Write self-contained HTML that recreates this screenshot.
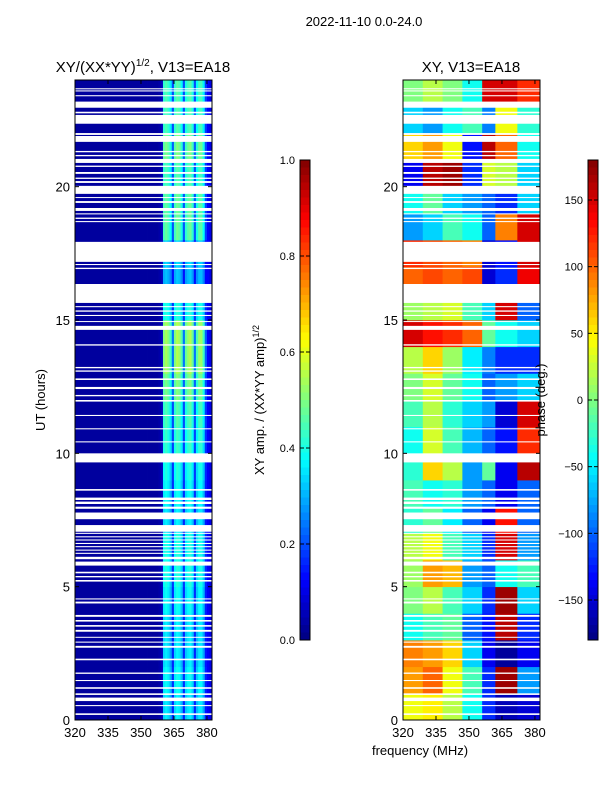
<!DOCTYPE html>
<html><head><meta charset="utf-8"><style>
html,body{margin:0;padding:0;background:#fff;}
svg text{font-family:"Liberation Sans","DejaVu Sans",sans-serif;}
</style></head><body>
<svg id="fig" width="600" height="800" viewBox="0 0 600 800" xmlns="http://www.w3.org/2000/svg">
<rect width="600" height="800" fill="#fff"/>
<text x="364" y="26" font-size="13" text-anchor="middle">2022-11-10 0.0-24.0</text>
<text x="143" y="72" font-size="15" text-anchor="middle">XY/(XX*YY)<tspan font-size="10" dy="-6">1/2</tspan><tspan dy="6">, V13=EA18</tspan></text>
<text x="471" y="72" font-size="15" text-anchor="middle">XY, V13=EA18</text>
<g id="amp"></g>
<g id="pha"></g>
<g id="axes"></g>
<text x="420" y="755" font-size="13" text-anchor="middle">frequency (MHz)</text>
<text transform="translate(45,400) rotate(-90)" font-size="13" text-anchor="middle">UT (hours)</text>
<text transform="translate(264,400) rotate(-90)" font-size="13" text-anchor="middle">XY amp. / (XX*YY amp)<tspan font-size="9" dy="-5">1/2</tspan></text>
<text transform="translate(545,400) rotate(-90)" font-size="13" text-anchor="middle">phase (deg.)</text>
</svg>
<script>
// ---- data ----
const freqMin = 320, freqMax = 382.3, tMin = 0, tMax = 24;
const xTicks = [320, 335, 350, 365, 380];
const yTicks = [0, 5, 10, 15, 20];
const ampTicks = [0.0, 0.2, 0.4, 0.6, 0.8, 1.0];
const phaseTicks = [-150, -100, -50, 0, 50, 100, 150];
// amplitude per 1 MHz channel 320..381
const ampChannel = [0.03,0.03,0.03,0.03,0.03,0.03,0.03,0.03,0.03,0.03,
 0.03,0.03,0.03,0.03,0.03,0.03,0.03,0.03,0.03,0.03,
 0.03,0.03,0.03,0.03,0.03,0.03,0.03,0.03,0.03,0.03,
 0.03,0.03,0.03,0.03,0.03,0.03,0.03,0.03,0.04,0.06,
 0.42,0.45,0.42,0.36,0.2,0.42,0.46,0.44,0.38,0.2,
 0.4,0.44,0.46,0.4,0.2,0.38,0.44,0.44,0.36,0.18,0.12,0.1];
// brightness factor per hour 0..23
const ampHour = [0.8,0.85,0.8,0.8,0.85,0.9,0.9,0.8,0.85,0.9,0.95,1.0,1.1,1.2,1.2,0.9,0.7,0.75,1.05,1.05,1.0,1.1,1.0,1.0];
// phase grid: rows hour 0..23, cols freq bins
const phaseFreqEdges = [320,329,338,347,356,362,372,382.3];
const phaseGrid = [
 [40,50,20,-40,-120,-160,-150],
 [80,100,40,-20,-120,170,-80],
 [90,80,60,-60,-140,-170,-140],
 [-40,-20,-10,-100,-130,160,-120],
 [0,20,-20,-60,-120,170,-60],
 [10,80,70,-80,-100,-40,-20],
 [20,40,-20,-60,-120,150,-80],
 [-30,-10,-50,-100,-140,130,-100],
 [-20,-40,-30,-80,-100,-140,-100],
 [-30,60,20,-80,-10,-140,160],
 [-40,30,-20,-70,-100,-130,120],
 [-20,20,-30,-60,-80,-150,150],
 [0,30,-10,-40,-100,-80,-60],
 [20,60,10,-50,-90,-120,-120],
 [150,130,120,100,-10,-40,-60],
 [10,20,30,-20,-60,150,-100],
 [100,110,100,110,-150,-120,140],
 [120,110,100,90,-150,-130,150],
 [-80,-60,-20,-40,-100,90,150],
 [-40,-10,-60,-80,-100,-120,-60],
 [-140,160,170,-120,30,20,-60],
 [60,80,40,-130,160,100,-40],
 [-60,-80,-40,-20,-90,40,-30],
 [0,20,0,-40,150,150,120]];
// flagged (blank) time intervals, hours
const flagStart = [23.65,23.57,23.39,22.96,22.75,22.36,21.94,21.68,21.29,21.14,20.89,20.74,20.48,20.29,20.14,19.73,19.58,19.39,19.09,18.96,18.79,18.67,17.18,17.06,16.91,15.64,15.48,15.31,15.15,14.93,14.63,14.04,13.19,13.06,12.75,12.41,12.14,11.94,11.40,10.90,10.41,9.66,8.60,8.25,8.10,7.92,7.53,7.06,6.98,6.85,6.73,6.60,6.48,6.35,6.23,6.03,5.79,5.50,5.35,5.19,4.52,4.37,3.87,3.69,3.50,3.31,3.09,2.90,2.71,2.24,1.73,1.46,1.17,0.94,0.71,0.52,0.19];
const flagEnd   = [23.69,23.61,23.43,23.19,22.81,22.69,22.01,21.90,21.34,21.19,21.04,20.79,20.55,20.34,20.21,20.03,19.61,19.46,19.20,19.00,18.84,18.71,17.93,17.10,16.96,16.35,15.52,15.36,15.19,14.96,14.78,14.09,13.24,13.11,12.81,12.49,12.19,12.00,11.44,10.94,10.45,10.00,8.66,8.34,8.19,8.00,7.78,7.31,7.02,6.89,6.77,6.64,6.52,6.39,6.27,6.12,5.94,5.56,5.40,5.25,4.56,4.44,3.94,3.75,3.56,3.38,3.12,2.94,2.78,2.30,1.78,1.50,1.23,1.00,0.84,0.56,0.25];

// ---- geometry ----
const NS = 'http://www.w3.org/2000/svg';
const L = {x0:75, x1:212}, R = {x0:403, x1:540};
const yTop = 80, yBot = 720;
function xs(p, f){ return p.x0 + (f - freqMin) / (freqMax - freqMin) * (p.x1 - p.x0); }
function ys(t){ return yBot - (t - tMin) / (tMax - tMin) * (yBot - yTop); }
const cb1 = {x:300, w:10, top:160, bot:640, min:0, max:1};
const cb2 = {x:588, w:10, top:160, bot:640, min:-180, max:180};
function cby(cb, v){ return cb.bot - (v - cb.min) / (cb.max - cb.min) * (cb.bot - cb.top); }
function jet(v){
  v = Math.max(0, Math.min(1, v));
  const c = x => Math.round(255 * Math.max(0, Math.min(1, x)));
  const r = 1.5 - Math.abs(4*v - 3), g = 1.5 - Math.abs(4*v - 2), b = 1.5 - Math.abs(4*v - 1);
  return 'rgb(' + c(r) + ',' + c(g) + ',' + c(b) + ')';
}
function mk(tag, attrs, parent){
  const e = document.createElementNS(NS, tag);
  for (const k in attrs) e.setAttribute(k, attrs[k]);
  parent.appendChild(e); return e;
}
const amp = document.getElementById('amp'), pha = document.getElementById('pha'), axes = document.getElementById('axes');

// amplitude heatmap
for (let h = 0; h < ampHour.length; h++){
  for (let c = 0; c < ampChannel.length; c++){
    const f0 = freqMin + c, f1 = Math.min(freqMax, f0 + 1);
    const base = ampChannel[c];
    const v = base > 0.15 ? base * ampHour[h] : base;
    const r = mk('rect', {x: xs(L, f0), y: ys(h + 1), width: xs(L, f1) - xs(L, f0) + 0.4, height: ys(h) - ys(h + 1) + 0.4, fill: jet(v)}, amp);
    
    
  }
}
// phase heatmap
for (let h = 0; h < phaseGrid.length; h++){
  for (let c = 0; c < phaseGrid[h].length; c++){
    const f0 = phaseFreqEdges[c], f1 = phaseFreqEdges[c + 1];
    const v = (phaseGrid[h][c] - cb2.min) / (cb2.max - cb2.min);
    const r = mk('rect', {x: xs(R, f0), y: ys(h + 1), width: xs(R, f1) - xs(R, f0) + 0.4, height: ys(h) - ys(h + 1) + 0.4, fill: jet(v)}, pha);
    
    
  }
}
// flags
for (let i = 0; i < flagStart.length; i++){
  for (const p of [L, R]){
    const r = mk('rect', {x: p.x0, y: ys(flagEnd[i]), width: p.x1 - p.x0, height: Math.max(1, ys(flagStart[i]) - ys(flagEnd[i])), fill: '#fff'}, p === L ? amp : pha);
    
    
  }
}
// axes frames + ticks
for (const p of [L, R]){
  const fr = mk('rect', {x: p.x0, y: yTop, width: p.x1 - p.x0, height: yBot - yTop, fill: 'none', stroke: '#000', 'stroke-width': 1}, axes);
  
  
  for (const t of xTicks){
    const x = xs(p, t);
    mk('line', {x1: x, x2: x, y1: yBot, y2: yBot - 4, stroke: '#000'}, axes);
    mk('line', {x1: x, x2: x, y1: yTop, y2: yTop + 4, stroke: '#000'}, axes);
    const tx = mk('text', {x: x, y: yBot + 17, 'font-size': 13, 'text-anchor': 'middle'}, axes);
    tx.textContent = t;
    
    
  }
  for (const t of yTicks){
    const y = ys(t);
    mk('line', {x1: p.x0, x2: p.x0 + 4, y1: y, y2: y, stroke: '#000'}, axes);
    mk('line', {x1: p.x1, x2: p.x1 - 4, y1: y, y2: y, stroke: '#000'}, axes);
    const tx = mk('text', {x: p.x0 - 5, y: y + 5, 'font-size': 13, 'text-anchor': 'end'}, axes);
    tx.textContent = t;
    
    
  }
}
// colorbars
function colorbar(cb, ticks, name){
  const n = 64;
  for (let i = 0; i < n; i++){
    const y0 = cb.top + (cb.bot - cb.top) * i / n;
    mk('rect', {x: cb.x, y: y0, width: cb.w, height: (cb.bot - cb.top) / n + 0.5, fill: jet(1 - (i + 0.5) / n)}, axes);
  }
  const fr = mk('rect', {x: cb.x, y: cb.top, width: cb.w, height: cb.bot - cb.top, fill: 'none', stroke: '#000'}, axes);
  
  
  for (const t of ticks){
    const y = cby(cb, t);
    mk('line', {x1: cb.x, x2: cb.x + 4, y1: y, y2: y, stroke: '#000'}, axes);
    mk('line', {x1: cb.x + cb.w, x2: cb.x + cb.w - 4, y1: y, y2: y, stroke: '#000'}, axes);
    const tx = mk('text', {x: cb.x - 5, y: y + 4, 'font-size': 11, 'text-anchor': 'end'}, axes);
    tx.textContent = (cb.max === 1 ? t.toFixed(1) : String(t).replace('-', '\u2212'));
    
    
  }
}
colorbar(cb1, ampTicks, 'amp-colorbar');
colorbar(cb2, phaseTicks, 'phase-colorbar');
</script>
</body></html>
